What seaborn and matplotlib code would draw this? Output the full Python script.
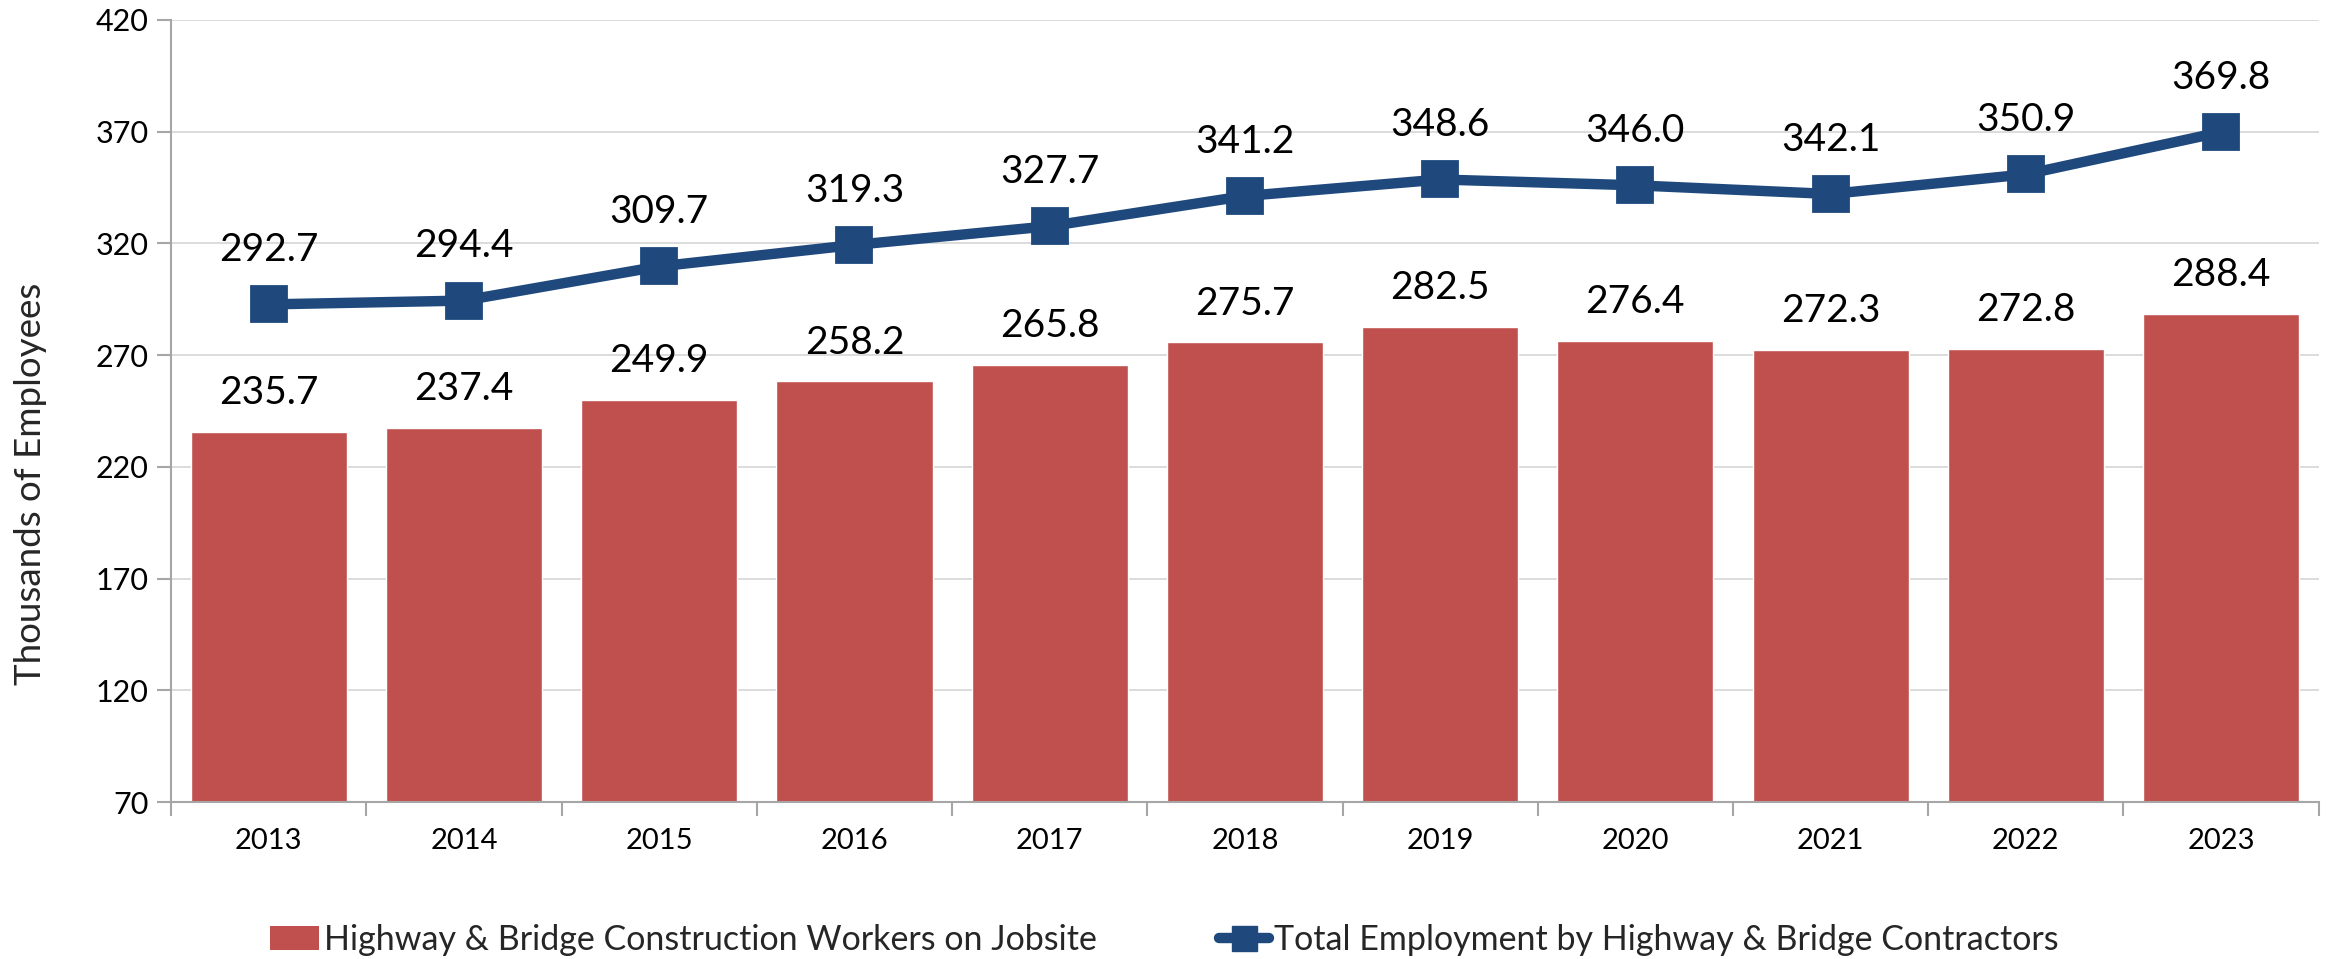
import numpy as np
import pandas as pd
import seaborn as sns
import matplotlib.pyplot as plt
from matplotlib.lines import Line2D
from matplotlib.patches import Patch

sns.set_theme(style="white")
plt.rcParams['font.family'] = ['Lato', 'DejaVu Sans']

# Data
years = ["2013", "2014", "2015", "2016", "2017", "2018", "2019", "2020", "2021", "2022", "2023"]
jobsite = [235.7, 237.4, 249.9, 258.2, 265.8, 275.7, 282.5, 276.4, 272.3, 272.8, 288.4]
total = [292.7, 294.4, 309.7, 319.3, 327.7, 341.2, 348.6, 346.0, 342.1, 350.9, 369.8]
bar_name = "Highway & Bridge Construction Workers on Jobsite"
line_name = "Total Employment by Highway & Bridge Contractors"

red = "#C0504D"
blue = "#1F497D"

fig = plt.figure(figsize=(23.28, 9.59), dpi=100)
ax = fig.add_axes([0.0735, 0.1637, 0.9225, 0.8155])

sns.barplot(x=years, y=jobsite, color=red, saturation=1, width=0.8, ax=ax, zorder=2)
sns.pointplot(x=years, y=total, color=blue, marker="s", markersize=22, linewidth=7.5,
              errorbar=None, ax=ax, zorder=3)

# Labels
for i, v in enumerate(jobsite):
    ax.annotate(f"{v:.1f}", (i, v), xytext=(0, 15), textcoords="offset points",
                ha="center", va="bottom", fontsize=28, color="black")
for i, v in enumerate(total):
    ax.annotate(f"{v:.1f}", (i, v), xytext=(0, 26), textcoords="offset points",
                ha="center", va="bottom", fontsize=28, color="black")

ax.set_ylim(70, 420)
ax.set_yticks(np.arange(70, 421, 50))
ax.set_xlim(-0.5, len(years) - 0.5)
ax.yaxis.grid(True, color="#D9D9D9", linewidth=1.3, zorder=0)
ax.set_axisbelow(True)

for s in ["top", "right"]:
    ax.spines[s].set_visible(False)
for s in ["left", "bottom"]:
    ax.spines[s].set_color("#A6A6A6")
    ax.spines[s].set_linewidth(1.5)

ax.tick_params(axis="y", which="major", left=True, length=10, width=1.5, color="#A6A6A6",
               labelsize=22, pad=6, labelcolor="black")
ax.tick_params(axis="x", which="major", bottom=False, labelsize=21, pad=13, labelcolor="black")
ax.set_xticks(np.arange(-0.5, len(years), 1), minor=True)
ax.tick_params(axis="x", which="minor", bottom=True, length=10, width=1.5, color="#A6A6A6")
ax.set_ylabel("Thousands of Employees", fontsize=26.5, color="#262626")
ax.yaxis.set_label_coords(-0.0576, 0.407)
ax.set_xlabel("")

handles = [Patch(facecolor=red, edgecolor="none"),
           Line2D([0], [0], color=blue, marker="s", markersize=18, linewidth=7.5)]
fig.legend(handles, [bar_name, line_name], loc="center", bbox_to_anchor=(0.5, 0.02),
           ncol=2, frameon=False, fontsize=24.5, handlelength=1.45, handletextpad=0.15,
           columnspacing=3.6)

fig.savefig("out.png", dpi=100)
